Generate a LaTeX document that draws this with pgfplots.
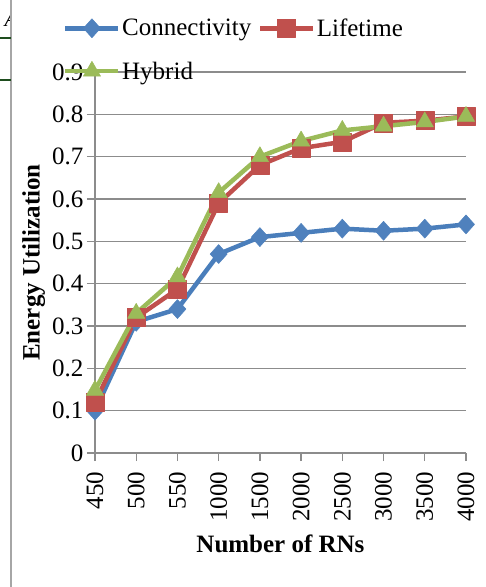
\documentclass[border=0pt]{standalone}
\usepackage{fontspec}
\setmainfont{Liberation Serif}
\usepackage{pgfplots}
\pgfplotsset{compat=1.18}

\definecolor{connblue}{HTML}{4A7EBB}
\definecolor{connfill}{HTML}{4F81BD}
\definecolor{lifered}{HTML}{C0504D}
\definecolor{hybgreen}{HTML}{9BBB59}
\definecolor{axgray}{HTML}{8C8C8C}
\definecolor{pagegray}{HTML}{A6A6A6}
\definecolor{rulegreen}{HTML}{1E4D1E}

\newcommand{\chartfont}{\fontsize{25}{30}\selectfont}

\begin{document}
\begin{tikzpicture}[x=1pt,y=1pt]
  \path[use as bounding box] (-95,-134) rectangle (391,453);

  % page edge on the left
  \draw[pagegray, line width=1.5pt] (-84,-134) -- (-84,453);
  \draw[rulegreen, line width=2.5pt] (-95,415) -- (-84,415);
  \draw[rulegreen, line width=2.5pt] (-95,373) -- (-84,373);
  \begin{scope}
    \clip (-95,380) rectangle (-85,453);
    \node[font=\fontsize{22}{26}\selectfont\itshape, anchor=base west] at (-94,426) {A};
  \end{scope}

  \begin{axis}[
    at={(0,0)}, anchor=south west,
    scale only axis, width=371pt, height=381pt,
    xmin=0, xmax=9, ymin=0, ymax=0.9,
    xtick={0,1,2,3,4,5,6,7,8,9},
    xticklabels={\textrm{450},\textrm{500},\textrm{550},\textrm{1000},\textrm{1500},
                 \textrm{2000},\textrm{2500},\textrm{3000},\textrm{3500},\textrm{4000}},
    ytick={0,0.1,0.2,0.3,0.4,0.5,0.6,0.7,0.8,0.9},
    yticklabel={\textrm{\pgfmathprintnumber[fixed,precision=1,assume math mode=true]{\tick}}},
    tick label style={font=\chartfont},
    xticklabel style={rotate=90, anchor=east},
    xticklabel shift=7pt,
    axis x line*=bottom, axis y line*=left,
    axis line style={draw=axgray, line width=1.3pt, -},
    tick align=outside, major tick length=8pt,
    tick style={draw=axgray, line width=1.3pt},
    ymajorgrids, grid style={draw=axgray, line width=1.3pt},
    xlabel={\bfseries Number of RNs},
    ylabel={\bfseries Energy Utilization},
    label style={font=\chartfont},
    xlabel style={at={(axis description cs:0.5,0)}, anchor=base, yshift=-99pt},
    ylabel style={at={(axis description cs:-0.165,0.5)}, anchor=center},
    legend columns=2,
    legend cell align=left,
    legend image code/.code={
      \draw[mark repeat=2, mark phase=2, #1]
        plot coordinates {(0pt,0pt) (26.5pt,0pt) (53pt,0pt)};
    },
    legend style={
      at={(axis description cs:0,1)}, anchor=north west,
      xshift=-32pt, yshift=55pt,
      draw=none, fill=none, font=\chartfont,
      inner sep=0pt, row sep=21pt,
      nodes={inner sep=1.5pt},
      /tikz/every even column/.append style={column sep=5pt},
    },
    line join=round,
  ]
    % Connectivity
    \addplot[connblue, line width=4.5pt, mark=diamond*, mark size=9.5pt,
      mark options={solid, xscale=1.2, fill=connfill, draw=connfill, line width=0.5pt}]
      coordinates {(0,0.10) (1,0.31) (2,0.34) (3,0.47) (4,0.51)
                   (5,0.52) (6,0.53) (7,0.525) (8,0.53) (9,0.54)};
    \addlegendentry{Connectivity}
    % Lifetime
    \addplot[lifered, line width=4.5pt, mark=square*, mark size=9pt,
      mark options={solid, fill=lifered, draw=lifered, line width=0.5pt}]
      coordinates {(0,0.12) (1,0.32) (2,0.387) (3,0.59) (4,0.68)
                   (5,0.72) (6,0.735) (7,0.78) (8,0.785) (9,0.795)};
    \addlegendentry{Lifetime}
    % Hybrid
    \addplot[hybgreen, line width=4.5pt, mark=triangle*, mark size=10pt,
      mark options={solid, fill=hybgreen, draw=hybgreen, line width=0.5pt}]
      coordinates {(0,0.148) (1,0.33) (2,0.416) (3,0.615) (4,0.70)
                   (5,0.737) (6,0.762) (7,0.772) (8,0.782) (9,0.795)};
    \addlegendentry{Hybrid}
  \end{axis}
\end{tikzpicture}
\end{document}
